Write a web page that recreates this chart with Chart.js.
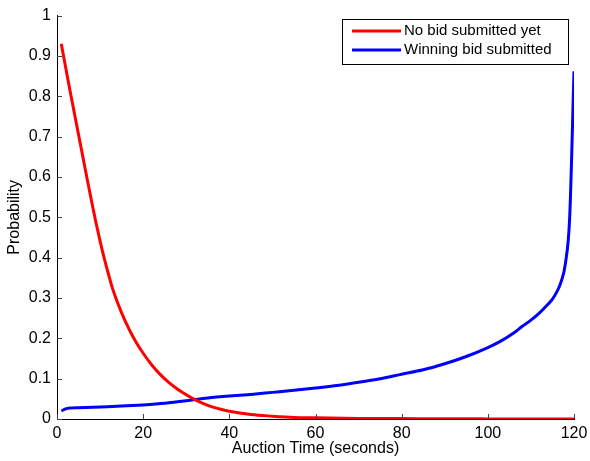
<!DOCTYPE html>
<html>
<head>
<meta charset="utf-8">
<script src="https://cdn.jsdelivr.net/npm/chart.js@4.4.0/dist/chart.umd.min.js"></script>
<style>
  html, body { margin: 0; padding: 0; background: #fff; }
  #wrap { width: 590px; height: 461px; }
</style>
</head>
<body>
<div id="wrap"><canvas id="probChart" width="590" height="461"></canvas></div>
<script>
const seriesNames = ['No bid submitted yet', 'Winning bid submitted'];

// No bid submitted yet (red)
const noBidTime = [1, 2, 3, 4, 5, 6, 7, 8, 9, 10, 11, 12, 13, 14, 15, 16, 17, 18, 19, 20,
  22, 24, 26, 28, 30, 32, 34, 36, 38, 40, 45, 50, 55, 60, 70, 80, 90, 100, 110, 120];
const noBidProb = [0.93, 0.872, 0.815, 0.76, 0.705, 0.65, 0.595, 0.541, 0.489, 0.441, 0.397, 0.357, 0.32, 0.29, 0.263, 0.239, 0.217, 0.197, 0.179, 0.163,
  0.134, 0.11, 0.09, 0.074, 0.06, 0.048, 0.038, 0.03, 0.024, 0.019, 0.011, 0.007, 0.004, 0.003, 0.0015, 0.001, 0.0005, 0.0003, 0.0002, 0.0001];

// Winning bid submitted (blue)
const winTime = [1, 2, 3, 5, 10, 15, 20, 25, 30, 35, 40, 45, 50, 55, 60, 65, 70, 75, 80, 85,
  90, 95, 100, 103, 106, 108, 110, 112, 114, 115, 116, 117, 118, 119, 120];
const winProb = [0.02, 0.025, 0.027, 0.028, 0.030, 0.032, 0.035, 0.039, 0.045, 0.052, 0.057, 0.061, 0.066, 0.071, 0.077, 0.083, 0.091, 0.100, 0.111, 0.122,
  0.137, 0.155, 0.177, 0.193, 0.213, 0.23, 0.245, 0.263, 0.285, 0.297, 0.315, 0.34, 0.385, 0.5, 0.862];

const xTicksStep = 20;
const yTicksStep = 0.1;

const toPoints = (xs, ys) => xs.map((x, i) => ({ x: x, y: ys[i] }));

const fontFamily = 'Liberation Sans, Arial, sans-serif';
const axisFont = { family: fontFamily, size: 16 };

// ticks pointing into the plot, like matlab
const innerTicks = {
  id: 'innerTicks',
  afterDatasetsDraw(chart) {
    const ctx = chart.ctx;
    const area = chart.chartArea;
    const xs = chart.scales.x, ys = chart.scales.y;
    ctx.save();
    ctx.strokeStyle = '#444';
    ctx.lineWidth = 1;
    ctx.beginPath();
    xs.ticks.forEach(t => {
      const px = Math.round(xs.getPixelForValue(t.value)) + 0.5;
      ctx.moveTo(px, area.bottom);
      ctx.lineTo(px, area.bottom - 5);
    });
    ys.ticks.forEach(t => {
      const py = Math.round(ys.getPixelForValue(t.value)) + 0.5;
      ctx.moveTo(area.left, py);
      ctx.lineTo(area.left + 5, py);
    });
    ctx.stroke();
    ctx.restore();
  }
};

// boxed legend top right
const boxLegend = {
  id: 'boxLegend',
  afterDraw(chart) {
    const ctx = chart.ctx;
    const boxX = 342, boxY = 19, boxW = 226, boxH = 45;
    ctx.save();
    ctx.fillStyle = '#fff';
    ctx.fillRect(boxX, boxY, boxW, boxH);
    ctx.strokeStyle = '#000';
    ctx.lineWidth = 1;
    ctx.strokeRect(boxX + 0.5, boxY + 0.5, boxW, boxH);
    ctx.font = '15px ' + fontFamily;
    ctx.textBaseline = 'middle';
    chart.data.datasets.forEach((ds, i) => {
      const cy = boxY + 12 + i * 19;
      ctx.strokeStyle = ds.borderColor;
      ctx.lineWidth = 3;
      ctx.beginPath();
      ctx.moveTo(boxX + 10, cy);
      ctx.lineTo(boxX + 59, cy);
      ctx.stroke();
      ctx.fillStyle = '#000';
      ctx.fillText(ds.label, boxX + 62, cy);
    });
    ctx.restore();
  }
};

const probCtx = document.getElementById('probChart').getContext('2d');
const probChart = new Chart(probCtx, {
  type: 'line',
  data: {
    datasets: [
      {
        label: seriesNames[0],
        data: toPoints(noBidTime, noBidProb),
        borderColor: '#ff0000',
        backgroundColor: '#ff0000',
        borderWidth: 3,
        pointRadius: 0,
        cubicInterpolationMode: 'monotone',
        fill: false
      },
      {
        label: seriesNames[1],
        data: toPoints(winTime, winProb),
        borderColor: '#0000ff',
        backgroundColor: '#0000ff',
        borderWidth: 3,
        pointRadius: 0,
        cubicInterpolationMode: 'monotone',
        fill: false
      }
    ]
  },
  options: {
    responsive: false,
    animation: false,
    layout: { padding: { top: 12, right: 16, left: 0, bottom: 0 } },
    plugins: {
      legend: { display: false },
      tooltip: { enabled: false }
    },
    scales: {
      x: {
        type: 'linear',
        min: 0,
        max: 120,
        ticks: { stepSize: xTicksStep, color: '#000', font: axisFont, padding: 5 },
        grid: { display: false, drawTicks: false },
        border: { display: true, color: '#000', width: 1 },
        title: { display: true, text: 'Auction Time (seconds)', color: '#000', font: axisFont, padding: { top: 0, bottom: 3 } },
        afterFit: s => { s.height = 42; s.paddingLeft = 0; s.paddingRight = 0; }
      },
      y: {
        type: 'linear',
        min: 0,
        max: 1,
        ticks: {
          stepSize: yTicksStep, color: '#000', font: axisFont, padding: 6,
          callback: v => String(Number(v.toFixed(1)))
        },
        grid: { display: false, drawTicks: false },
        border: { display: true, color: '#000', width: 1 },
        title: { display: true, text: 'Probability', color: '#000', font: axisFont, padding: { top: 5, bottom: 2 } },
        afterFit: s => { s.width = 57; }
      }
    }
  },
  plugins: [innerTicks, boxLegend]
});
</script>
</body>
</html>
